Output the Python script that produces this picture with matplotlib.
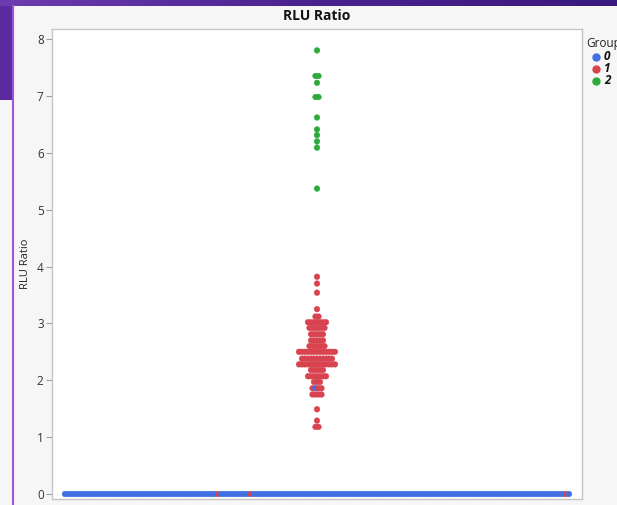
"""RLU ratio by group, drawn as a centred dot swarm."""

import numpy as np
import matplotlib

matplotlib.use("Agg")
from matplotlib import pyplot as plt
from matplotlib.lines import Line2D

plt.rcParams["font.family"] = ["Open Sans", "DejaVu Sans"]

# distinct RLU ratio levels and how many samples of each group sit on them
ratio_levels = [0.0, 1.18, 1.29, 1.49, 1.75, 1.86, 1.97, 2.07, 2.18, 2.28,
                2.38, 2.50, 2.60, 2.70, 2.81, 2.92, 3.02, 3.12, 3.25, 3.54,
                3.70, 3.82, 5.37, 6.09, 6.20, 6.31, 6.41, 6.62, 6.98, 7.23,
                7.35, 7.80]
count_group0 = [166, 0, 0, 0, 0, 1, 0, 0, 0, 0,
                0, 0, 0, 0, 0, 0, 0, 0, 0, 0,
                0, 0, 0, 0, 0, 0, 0, 0, 0, 0,
                0, 0]
count_group1 = [3, 2, 1, 1, 4, 3, 3, 7, 5, 13,
                11, 13, 6, 5, 5, 6, 7, 2, 1, 1,
                1, 1, 0, 0, 0, 0, 0, 0, 0, 0,
                0, 0]
count_group2 = [0, 0, 0, 0, 0, 0, 0, 0, 0, 0,
                0, 0, 0, 0, 0, 0, 0, 0, 0, 0,
                0, 0, 1, 1, 1, 1, 1, 1, 2, 1,
                2, 1]
group_names = ["0", "1", "2"]

COLORS = ["#3f6fe0", "#d8434f", "#2eaa3c"]

# slots inside a row where a minority group lands (row value -> group -> slots)
MIXED_SLOTS = {0.0: {1: [51, 62, 167]}, 1.86: {0: [1]}}

W, H = 617, 505
fig = plt.figure(figsize=(W / 100, H / 100), dpi=100)
fig.patch.set_facecolor("#f6f6f6")

# plot frame in pixels: left, top, right, bottom
L, T, R, B = 52, 29, 582, 499
ax = fig.add_axes([L / W, 1 - B / H, (R - L) / W, (B - T) / H])
ax.set_facecolor("white")
ax.set_xlim(-1, 1)
ax.set_ylim(-0.088, 8.176)

step = 3 * 2 / (R - L)  # 3 px between neighbours

xs, ys, cs = [], [], []
counts = [count_group0, count_group1, count_group2]
for j, level in enumerate(ratio_levels):
    n = sum(c[j] for c in counts)
    if n == 0:
        continue
    slots = [None] * n
    for g, slot_list in MIXED_SLOTS.get(level, {}).items():
        for s in slot_list[: counts[g][j]]:
            slots[s] = g
    placed = {g: sum(1 for s in slots if s == g) for g in range(3)}
    free = iter(i for i in range(n) if slots[i] is None)
    for g in range(3):
        for _ in range(counts[g][j] - placed[g]):
            slots[next(free)] = g
    for i, g in enumerate(slots):
        xs.append((i - (n - 1) / 2) * step)
        ys.append(level)
        cs.append(COLORS[g])

ax.scatter(xs, ys, s=17, c=cs, edgecolors=cs, linewidths=0.3, zorder=3)

ax.set_xticks([])
ax.set_yticks(range(9))
ax.tick_params(axis="y", length=4, width=0.8, color="#a0a0a0",
               labelsize=8.5, labelcolor="#333333", pad=2)
for sp in ax.spines.values():
    sp.set_color("#c4c4c4")
    sp.set_linewidth(1.0)
ax.set_ylabel("RLU Ratio", fontsize=8, color="#222222", labelpad=4)

fig.text((L + R) / 2 / W, 1 - 16 / H, "RLU Ratio", ha="center", va="center",
         fontsize=10, fontweight="bold", color="#111111")

# legend on the right, running off the panel edge
fig.text(586 / W, 1 - 44 / H, "Group", ha="left", va="center",
         fontsize=8.5, color="#222222")
for k, name in enumerate(group_names):
    yy = 1 - (57 + 12 * k) / H
    fig.add_artist(Line2D([596 / W], [yy], marker="o", markersize=5,
                          color=COLORS[k], linestyle="none"))
    fig.text(604 / W, yy, name, ha="left", va="center", fontsize=8.5,
             fontweight="bold", fontstyle="italic", color="#111111")

# desktop window behind the report
grad = np.linspace(0, 1, 256).reshape(1, -1)
band = fig.add_axes([0, 1 - 6 / H, 1, 6 / H])
band.imshow(grad, aspect="auto", extent=[0, 1, 0, 1],
            cmap=matplotlib.colors.LinearSegmentedColormap.from_list(
                "win", ["#6e3cb0", "#4a2290", "#3a1a7e"]))
band.set_axis_off()
side = fig.add_axes([0, 1 - 100 / H, 12 / W, 94 / H])
side.set_facecolor("#5a2a9e")
side.set_xticks([])
side.set_yticks([])
for sp in side.spines.values():
    sp.set_visible(False)
fig.add_artist(Line2D([12.5 / W, 12.5 / W], [0, 1 - 6 / H],
                      color="#a450d8", linewidth=1.5))

fig.savefig("out.png", dpi=100, facecolor=fig.get_facecolor())
